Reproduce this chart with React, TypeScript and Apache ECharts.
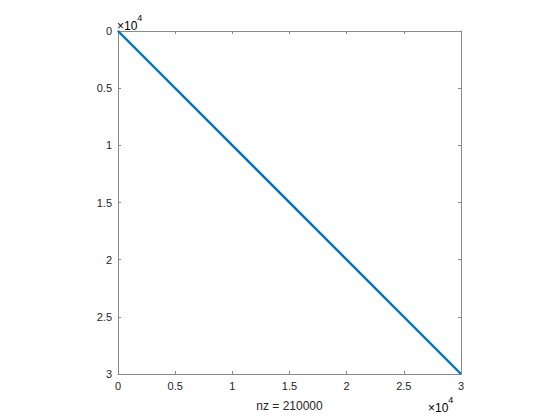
import React, { useEffect, useRef } from "react";
import * as echarts from "echarts";

// Matrix size and nonzero structure (banded matrix, drawn as its diagonal band)
const matrixSize = 30000;
const nonzeros = 210000;
const bandStart: [number, number] = [0, 0];
const bandEnd: [number, number] = [30000, 30000];
const tickValues = [0, 5000, 10000, 15000, 20000, 25000, 30000];
const tickLabels = ["0", "0.5", "1", "1.5", "2", "2.5", "3"];

const FONT = "Liberation Sans, Arial, Helvetica, sans-serif";
const TEXT = "#262626";
const AXIS = "#8a8a8a";

export default function App() {
  const ref = useRef<HTMLDivElement>(null);
  useEffect(() => {
    if (!ref.current) return;
    const chart = echarts.init(ref.current, undefined, { renderer: "svg" });
    const fmt = (v: number) => {
      const i = tickValues.indexOf(v);
      return i >= 0 ? tickLabels[i] : "";
    };
    const axisCommon = {
      type: "value" as const,
      min: 0,
      max: matrixSize,
      interval: 5000,
      splitLine: { show: false },
      axisLine: { show: true, onZero: false, lineStyle: { color: AXIS, width: 1 } },
      axisTick: { show: true, inside: true, length: 3, lineStyle: { color: AXIS } },
    };
    const expRich = {
      a: { fontSize: 12, fontFamily: FONT, color: TEXT, padding: [7, 0, 0, 0] },
      b: { fontSize: 9, fontFamily: FONT, color: TEXT, verticalAlign: "top" },
    };
    chart.setOption({
      animation: false,
      backgroundColor: "#ffffff",
      grid: { left: 118, top: 31, width: 343, height: 343, containLabel: false },
      xAxis: [
        {
          ...axisCommon,
          position: "bottom",
          axisLabel: { show: true, formatter: fmt, color: TEXT, fontSize: 11, fontFamily: FONT, margin: 6 },
          name: "nz = " + nonzeros,
          nameLocation: "middle",
          nameGap: 26,
          nameTextStyle: { color: TEXT, fontSize: 12, fontFamily: FONT },
        },
        {
          ...axisCommon,
          position: "top",
          axisLabel: { show: false },
        },
      ],
      yAxis: [
        {
          ...axisCommon,
          inverse: true,
          position: "left",
          axisLabel: { show: true, formatter: fmt, color: TEXT, fontSize: 11, fontFamily: FONT, margin: 6 },
        },
        {
          ...axisCommon,
          inverse: true,
          position: "right",
          axisLabel: { show: false },
        },
      ],
      series: [
        {
          type: "line",
          xAxisIndex: 0,
          yAxisIndex: 0,
          data: [bandStart, bandEnd],
          symbol: "none",
          lineStyle: { color: "#0072BD", width: 2.4 },
        },
      ],
      graphic: [
        {
          type: "text",
          left: 117,
          top: 13,
          style: { text: "{a|×10}{b|4}", rich: expRich },
        },
        {
          type: "text",
          left: 428,
          top: 395,
          style: { text: "{a|×10}{b|4}", rich: expRich },
        },
      ],
    });
    return () => chart.dispose();
  }, []);
  return <div ref={ref} style={{ width: 560, height: 420, position: "absolute", left: 0, top: 0 }} />;
}
